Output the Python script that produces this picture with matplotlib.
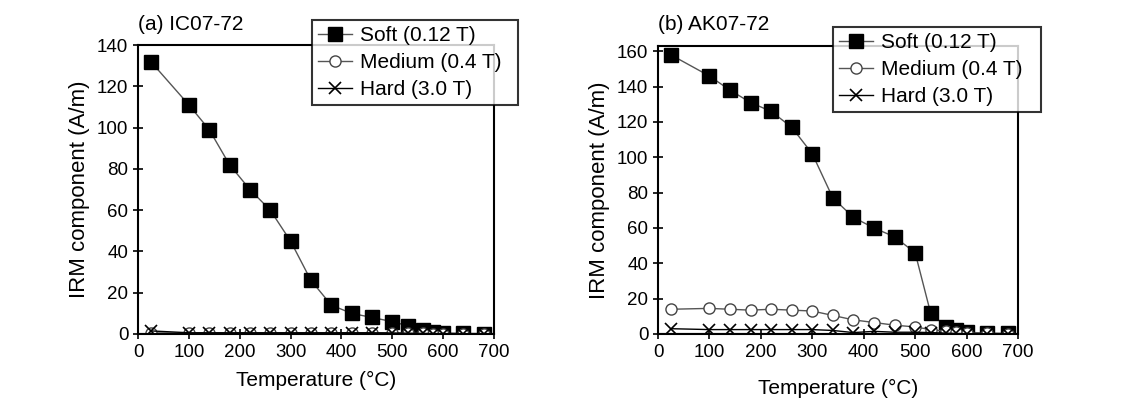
import matplotlib
matplotlib.use("Agg")
import matplotlib.pyplot as plt

plt.rcParams['font.family'] = ['Liberation Sans', 'DejaVu Sans']

# temperature steps (deg C)
temps = [25, 100, 140, 180, 220, 260, 300, 340, 380, 420, 460, 500, 530, 560, 580, 600, 640, 680]

# (a) IC07-72
soft_a = [132, 111, 99, 82, 70, 60, 45, 26, 14, 10, 8, 6, 4, 2, 1, 0.5, 0.3, 0.2]
medium_a = [0.5, 0.5, 0.5, 0.5, 0.5, 0.5, 0.5, 0.5, 0.5, 0.5, 0.5, 0.5, 0.4, 0.3, 0.2, 0.2, 0.1, 0.1]
hard_a = [1.5, 0.6, 0.6, 0.6, 0.6, 0.6, 0.6, 0.6, 0.6, 0.6, 0.6, 0.5, 0.4, 0.3, 0.2, 0.2, 0.1, 0.1]

# (b) AK07-72
soft_b = [158, 146, 138, 131, 126, 117, 102, 77, 66, 60, 55, 46, 12, 4, 2, 1, 0.5, 0.3]
medium_b = [14, 14.5, 14, 13.5, 14, 13.5, 13, 10.5, 8, 6.5, 5, 4, 2.5, 1.5, 1, 0.5, 0.3, 0.2]
hard_b = [3, 2.5, 2.5, 2.5, 2.5, 2.5, 2.5, 2, 0.8, 1.5, 1, 1, 0.8, 0.5, 0.3, 0.2, 0.1, 0.1]

W, H = 1135, 401
fig = plt.figure(figsize=(W / 100, H / 100), dpi=100)


def px_axes(left, top, right, bottom):
    return fig.add_axes([left / W, 1 - bottom / H, (right - left) / W, (bottom - top) / H])


def draw_panel(ax, soft, medium, hard, ymax, yticks, title, leg_box, ylab_x, xlab_y):
    lc = '#555555'
    ax.plot(temps, soft, '-', color=lc, lw=1, marker='s', ms=9.5,
            mfc='black', mec='black', label='Soft (0.12 T)')
    ax.plot(temps, medium, '-', color=lc, lw=1, marker='o', ms=8,
            mfc='white', mec='#444444', label='Medium (0.4 T)')
    ax.plot(temps, hard, '-', color='black', lw=1, marker='x', ms=8,
            mec='black', mew=1.2, label='Hard (3.0 T)')
    ax.axhline(0, color='black', lw=1.5, zorder=1)
    ax.set_xlim(0, 700)
    ax.set_ylim(0, ymax)
    ax.set_xticks(range(0, 701, 100))
    ax.set_yticks(yticks)
    ax.tick_params(direction='inout', length=7, width=1.2, labelsize=13.5)
    for s in ax.spines.values():
        s.set_linewidth(1.5)
    bb = ax.get_position()
    fig.text((bb.x0 + bb.x1) / 2, 1 - xlab_y / H, 'Temperature (°C)', fontsize=15,
             ha='center', va='center')
    fig.text(ylab_x / W, (bb.y0 + bb.y1) / 2, 'IRM component (A/m)', fontsize=16,
             ha='center', va='center', rotation=90)
    fig.text(bb.x0, 1 - 25 / H, title, fontsize=15, ha='left', va='center')
    l, t, r, b = leg_box
    leg = ax.legend(loc='upper left', bbox_to_anchor=(l / W, 1 - b / H, (r - l) / W, (b - t) / H),
                    bbox_transform=fig.transFigure, mode='expand', fontsize=15,
                    frameon=True, fancybox=False, handlelength=1.6, handletextpad=0.4,
                    borderaxespad=0, labelspacing=0.38, borderpad=0.3)
    leg.get_frame().set_edgecolor('black')
    leg.get_frame().set_linewidth(1.5)


ax_a = px_axes(138, 45, 494, 334)
draw_panel(ax_a, soft_a, medium_a, hard_a, 140, range(0, 141, 20), '(a) IC07-72',
           (312, 20, 518, 108), 80, 380)

ax_b = px_axes(658, 46, 1018, 334)
draw_panel(ax_b, soft_b, medium_b, hard_b, 163, range(0, 161, 20), '(b) AK07-72',
           (833, 27, 1041, 117), 600, 388)

fig.savefig('out.png', dpi=100)
